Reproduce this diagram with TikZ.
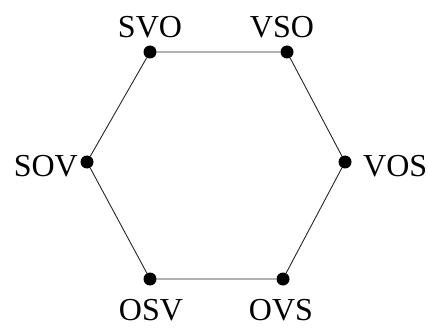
\documentclass[tikz,border=0pt]{standalone}
\usepackage{fontspec}
\setmainfont{Liberation Serif}
\begin{document}
\begin{tikzpicture}[x=1pt,y=1pt,
  vdot/.style={circle,fill=black,minimum size=13pt,inner sep=0pt},
  lbl/.style={inner sep=0pt,text depth=0pt,font=\fontsize{32}{32}\selectfont},
  edge/.style={draw=black!85,line width=0.9pt}]
\useasboundingbox (0,0) rectangle (428,327);
\node[vdot] (svo) at (150,275) {};
\node[vdot] (vso) at (287,275) {};
\node[vdot] (sov) at (87,165) {};
\node[vdot] (vos) at (345,165) {};
\node[vdot] (osv) at (150,48) {};
\node[vdot] (ovs) at (283,48) {};
\draw[edge] (svo) -- (vso) -- (vos) -- (ovs) -- (osv) -- (sov) -- (svo);
\node[lbl,anchor=base] (tsvo) at (150,289) {SVO};
\node[lbl,anchor=base] (tvso) at (282,289) {VSO};
\node[lbl,anchor=base east] (tsov) at (78,150) {SOV};
\node[lbl,anchor=base west] (tvos) at (363,150) {VOS};
\node[lbl,anchor=base] (tosv) at (151,7) {OSV};
\node[lbl,anchor=base] (tovs) at (281,7) {OVS};
\end{tikzpicture}
\end{document}
